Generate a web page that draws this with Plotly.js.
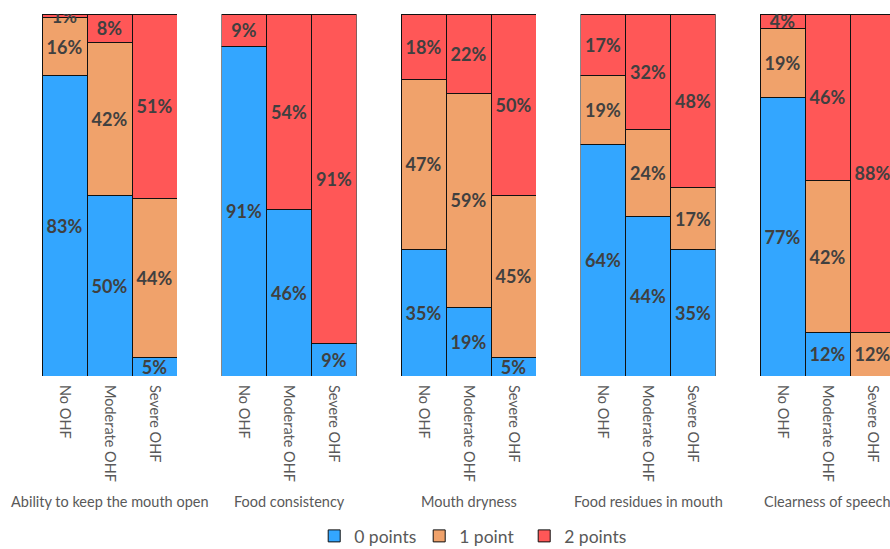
<!DOCTYPE html>
<html><head><meta charset="utf-8">
<script src="https://cdn.plot.ly/plotly-3.0.1.min.js"></script>
<style>html,body{margin:0;padding:0;background:#fff}#chart{width:890px;height:549px}</style>
</head><body><div id="chart"></div>
<script>
const groups = ["No OHF", "Moderate OHF", "Severe OHF"];
const panels = ["Ability to keep the mouth open", "Food consistency", "Mouth dryness", "Food residues in mouth", "Clearness of speech"];
const seriesNames = ["0 points", "1 point", "2 points"];
const colors = ["#33A6FF", "#F0A26B", "#FF5757"];
// values per panel: [No OHF, Moderate OHF, Severe OHF]
const zeroPoints = [[83, 50, 5], [91, 46, 9], [35, 19, 5], [64, 44, 35], [77, 12, 0]];
const onePoint   = [[16, 42, 44], [0, 0, 0], [47, 59, 45], [19, 24, 17], [19, 42, 12]];
const twoPoints  = [[1, 8, 51], [9, 54, 91], [18, 22, 50], [17, 32, 48], [4, 46, 88]];

const W = 890, H = 549, plotTop = 14, plotBottom = 376;
const panelLeft = 42, panelStep = 179.5, panelWidth = 135;
const series = [zeroPoints, onePoint, twoPoints];
const traces = [];
const layout = {
  width: W, height: H, margin: {l: 0, r: 0, t: plotTop, b: H - plotBottom, autoexpand: false},
  paper_bgcolor: "#fff", plot_bgcolor: "#fff", barmode: "stack", bargap: 0,
  showlegend: true,
  legend: {orientation: "h", x: 0.53, xanchor: "center", y: (plotBottom - 536) / (plotBottom - plotTop), yanchor: "middle",
           font: {family: "Lato, 'Open Sans', sans-serif", size: 17.5, color: "#595959"}, traceorder: "normal",
           itemwidth: 30, entrywidth: 60, entrywidthmode: "pixels"},
  annotations: [], font: {family: "Lato, sans-serif"}
};
panels.forEach((p, i) => {
  const ax = i === 0 ? "" : String(i + 1);
  const x0 = panelLeft + panelStep * i;
  const x1 = Math.min(x0 + panelWidth, W);
  const visibleBars = (x1 - x0) / (panelWidth / 3);
  layout["xaxis" + ax] = {domain: [x0 / W, x1 / W], range: [-0.5, -0.5 + visibleBars], type: "category",
    showgrid: false, zeroline: false, showline: false, ticks: "", tickangle: 90, ticklabelstandoff: 8,
    tickfont: {family: "Lato, sans-serif", size: 14.5, color: "#595959"}, anchor: "y" + ax, fixedrange: true,
    automargin: false};
  layout["yaxis" + ax] = {domain: [0, 1], range: [0, 100], visible: false, anchor: "x" + ax, fixedrange: true};
  layout.annotations.push({text: p, xref: "paper", yref: "paper", x: (x0 + panelWidth / 2) / W,
    y: (plotBottom - 501) / (plotBottom - plotTop), xanchor: "center", yanchor: "middle", showarrow: false,
    font: {family: "Lato, sans-serif", size: 14.5, color: "#595959"}});
  series.forEach((s, k) => {
    const vals = s[i];
    traces.push({type: "bar", x: groups, y: vals, xaxis: "x" + ax, yaxis: "y" + ax,
      name: seriesNames[k], legendgroup: seriesNames[k], showlegend: i === 0,
      marker: {color: colors[k], line: {color: "#111", width: 1}},
      text: vals.map(v => v > 0 ? v + "%" : ""), textposition: "inside", insidetextanchor: "middle",
      constraintext: "none", cliponaxis: true,
      textfont: {family: "Lato, sans-serif", size: 18, color: "#404040", weight: "bold"},
      hoverinfo: "skip"});
  });
});
Plotly.newPlot("chart", traces, layout, {displayModeBar: false, staticPlot: true});
</script></body></html>
